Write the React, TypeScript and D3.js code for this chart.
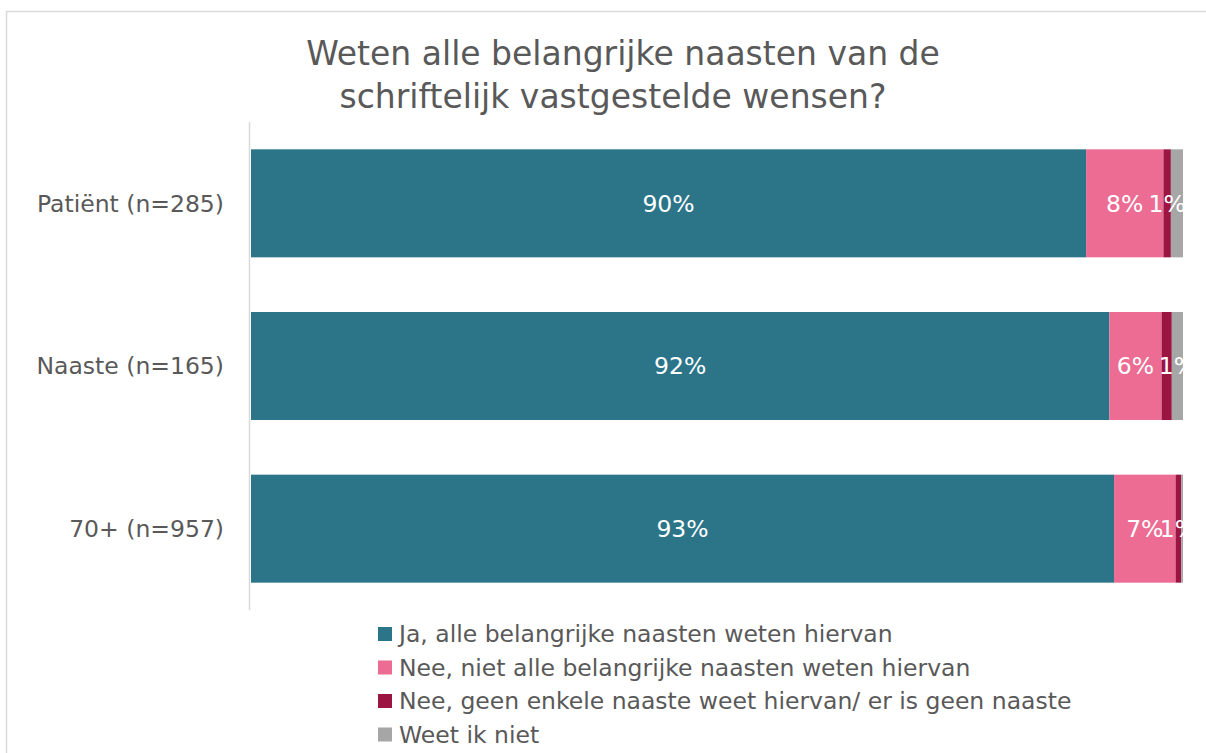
import { useEffect, useRef } from 'react';
import * as d3 from 'd3';

const categories = ['Patiënt (n=285)', 'Naaste (n=165)', '70+ (n=957)'];
const seriesNames = [
  'Ja, alle belangrijke naasten weten hiervan',
  'Nee, niet alle belangrijke naasten weten hiervan',
  'Nee, geen enkele naaste weet hiervan/ er is geen naaste',
  'Weet ik niet',
];
const seriesColors = ['#2c7589', '#ec6c94', '#9b1442', '#a6a6a6'];
// percentages per category, same order as seriesNames
const jaValues = [89.6, 92.1, 92.6];
const neeNietAlleValues = [8.3, 5.6, 6.6];
const neeGeenValues = [0.8, 1.1, 0.6];
const weetNietValues = [1.3, 1.2, 0.2];
// which series carry a data label, per category
const labelledSeries = [[0, 1, 2], [0, 1, 3], [0, 1, 2]];
const titleLines = ['Weten alle belangrijke naasten van de', 'schriftelijk vastgestelde wensen?'];

const W = 1206;
const H = 753;
const FONT = '"DejaVu Sans", Verdana, sans-serif';
const TEXT = '#595959';

export default function App() {
  const svgRef = useRef<SVGSVGElement>(null);

  useEffect(() => {
    if (!svgRef.current) return;
    const svg = d3.select(svgRef.current);
    svg.selectAll('*').remove();

    // outer chart frame
    svg.append('rect')
      .attr('x', 6.5).attr('y', 11.5)
      .attr('width', W + 20).attr('height', H + 20)
      .attr('fill', '#fff')
      .attr('stroke', '#d9d9d9')
      .attr('stroke-width', 1.5);

    // title
    const titleX = [623, 613];
    titleLines.forEach((t, i) => {
      svg.append('text')
        .attr('x', titleX[i])
        .attr('y', 65 + i * 43)
        .attr('text-anchor', 'middle')
        .attr('font-family', FONT)
        .attr('font-size', 33)
        .attr('fill', TEXT)
        .text(t);
    });

    const plot = { left: 251, right: 1183, top: 122, bottom: 610 };

    const x = d3.scaleLinear().domain([0, 100]).range([plot.left, plot.right]);
    const y = d3.scaleBand<string>()
      .domain(categories)
      .range([plot.top, plot.bottom])
      .paddingInner(0.336)
      .paddingOuter(0.168);

    const rows = categories.map((c, i) => ({
      cat: c,
      idx: i,
      vals: [jaValues[i], neeNietAlleValues[i], neeGeenValues[i], weetNietValues[i]],
    }));
    const stack = d3.stack<{ cat: string; idx: number; vals: number[] }, number>()
      .keys([0, 1, 2, 3])
      .value((d, k) => d.vals[k]);
    const layers = stack(rows);

    const clipId = 'plot-clip';
    svg.append('clipPath').attr('id', clipId)
      .append('rect')
      .attr('x', plot.left).attr('y', plot.top)
      .attr('width', plot.right - plot.left).attr('height', plot.bottom - plot.top);

    const g = svg.append('g');
    layers.forEach((layer, si) => {
      g.selectAll(null)
        .data(layer)
        .enter()
        .append('rect')
        .attr('x', d => x(d[0]))
        .attr('y', d => y(d.data.cat)!)
        .attr('width', d => x(d[1]) - x(d[0]))
        .attr('height', y.bandwidth())
        .attr('fill', seriesColors[si]);
    });

    // data labels
    const lg = svg.append('g').attr('clip-path', `url(#${clipId})`);
    layers.forEach((layer, si) => {
      lg.selectAll(null)
        .data(layer.filter(d => labelledSeries[d.data.idx].includes(si)))
        .enter()
        .append('text')
        .attr('x', d => (x(d[0]) + x(d[1])) / 2)
        .attr('y', d => y(d.data.cat)! + y.bandwidth() / 2)
        .attr('dy', '0.36em')
        .attr('text-anchor', 'middle')
        .attr('font-family', FONT)
        .attr('font-size', 23.5)
        .attr('fill', '#fff')
        .text(d => `${Math.round(d[1] - d[0])}%`);
    });

    // category axis
    svg.append('line')
      .attr('x1', plot.left - 1.5).attr('x2', plot.left - 1.5)
      .attr('y1', plot.top).attr('y2', plot.bottom)
      .attr('stroke', '#d9d9d9')
      .attr('stroke-width', 1.5);

    svg.selectAll(null)
      .data(categories)
      .enter()
      .append('text')
      .attr('x', 224)
      .attr('y', d => y(d)! + y.bandwidth() / 2)
      .attr('dy', '0.36em')
      .attr('text-anchor', 'end')
      .attr('font-family', FONT)
      .attr('font-size', 23.5)
      .attr('fill', TEXT)
      .text(d => d);

    // legend
    const legend = svg.append('g').attr('transform', 'translate(378, 634)');
    seriesNames.forEach((name, i) => {
      const row = legend.append('g').attr('transform', `translate(0, ${i * 33.5})`);
      row.append('rect')
        .attr('x', 0).attr('y', -7)
        .attr('width', 14).attr('height', 14)
        .attr('fill', seriesColors[i]);
      row.append('text')
        .attr('x', 21).attr('y', 0)
        .attr('dy', '0.36em')
        .attr('font-family', FONT)
        .attr('font-size', 23.5)
        .attr('fill', TEXT)
        .text(name);
    });
  }, []);

  return (
    <svg
      ref={svgRef}
      width={W}
      height={H}
      viewBox={`0 0 ${W} ${H}`}
      style={{ position: 'absolute', left: 0, top: 0, display: 'block', background: '#fff' }}
    />
  );
}
